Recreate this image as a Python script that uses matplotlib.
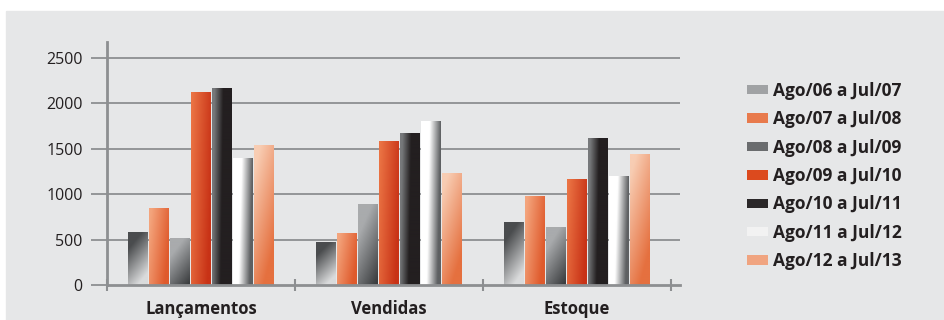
import numpy as np
import matplotlib
matplotlib.use("Agg")
import matplotlib.pyplot as plt
from matplotlib.patches import Rectangle, Patch
from matplotlib.colors import to_rgb

categories = ["Lançamentos", "Vendidas", "Estoque"]
periods = ["Ago/06 a Jul/07", "Ago/07 a Jul/08", "Ago/08 a Jul/09", "Ago/09 a Jul/10",
           "Ago/10 a Jul/11", "Ago/11 a Jul/12", "Ago/12 a Jul/13"]
values = [
    [580, 466, 686],
    [845, 565, 977],
    [514, 892, 628],
    [2118, 1575, 1160],
    [2162, 1663, 1611],
    [1391, 1799, 1200],
    [1531, 1233, 1439],
]
yticks = [0, 500, 1000, 1500, 2000, 2500]

# gradient styles: (color at t=0, color at t=1, weight u, weight v, offset)
# u = left->right, v = bottom->top
styles = [
    ("#dadbdc", "#4a4c4e", -0.5, 1.1, 0.25),
    ("#f4a57d", "#df5a2c", 0.9, -0.4, 0.3),
    ("#a9abad", "#3b3d3f", 0.5, -0.9, 0.55),
    ("#eb7444", "#c83216", 0.9, -0.3, 0.25),
    ("#77797b", "#231f20", 2.2, -0.3, 0.05),
    ("#ffffff", "#5e6062", 1.8, -0.3, -0.5),
    ("#f8cdb3", "#e5703f", 0.5, -0.9, 0.75),
]
legend_colors = ["#a0a2a4", "#e87a4c", "#6a6c6e", "#dc4a1e", "#2b2829", "#f2f2f2", "#f0a480"]

def gradient(style, n=60):
    c0, c1, wu, wv, off = style
    u, v = np.meshgrid(np.linspace(0, 1, n), np.linspace(1, 0, n))
    t = np.clip(wu * u + wv * v + off, 0, 1)[..., None]
    return np.array(to_rgb(c0)) * (1 - t) + np.array(to_rgb(c1)) * t

plt.rcParams["font.family"] = ["Open Sans", "DejaVu Sans"]
fig = plt.figure(figsize=(9.44, 3.2), dpi=100)
fig.patches.append(Rectangle((6 / 944, 0), 1, 1 - 11 / 320, transform=fig.transFigure,
                             color="#e6e7e8", zorder=-10))

ax = fig.add_axes([107 / 944, 35 / 320, 573 / 944, 243 / 320])
ax.set_facecolor("none")

bar_w = 0.106
pitch = 0.112
for i, series in enumerate(values):
    img = gradient(styles[i])
    for j, val in enumerate(series):
        xc = j + 0.5 + (i - 3) * pitch
        ax.imshow(img, extent=[xc - bar_w / 2, xc + bar_w / 2, 0, val],
                  aspect="auto", interpolation="bilinear", zorder=3)

ax.set_xlim(0, 3.048)
ax.set_ylim(0, 2676)

grid_c = "#8d8f91"
for y in yticks[1:]:
    ax.axhline(y, color=grid_c, lw=1.3, zorder=1)
for s in ["top", "right"]:
    ax.spines[s].set_visible(False)
ax.spines["left"].set_color(grid_c)
ax.spines["left"].set_linewidth(2)
ax.spines["bottom"].set_color(grid_c)
ax.spines["bottom"].set_linewidth(2)
ax.spines["bottom"].set_zorder(4)

ax.set_yticks(yticks)
ax.set_yticklabels([str(y) for y in yticks])
ax.tick_params(axis="y", length=11.5, width=1.3, color=grid_c, pad=6,
               labelsize=11.5, labelcolor="#231f20")

ax.set_xticks([0.5, 1.5, 2.5])
ax.set_xticklabels(categories, fontweight="bold", fontsize=12, color="#231f20")
ax.tick_params(axis="x", which="major", length=0, pad=11)
ax.set_xticks([0, 1, 2, 3], minor=True)
ax.tick_params(axis="x", which="minor", direction="inout", length=9, width=1.5, color=grid_c)

handles = [Patch(facecolor=c, edgecolor="none") for c in legend_colors]
fig.legend(handles, periods, loc="center left", bbox_to_anchor=(747 / 944, 1 - 176 / 320),
           frameon=False, prop={"weight": "bold", "size": 12.5}, labelcolor="#231f20",
           handlelength=1.2, handleheight=0.46, handletextpad=0.3, labelspacing=0.6,
           borderpad=0, borderaxespad=0)

plt.savefig("out.png", dpi=100)
